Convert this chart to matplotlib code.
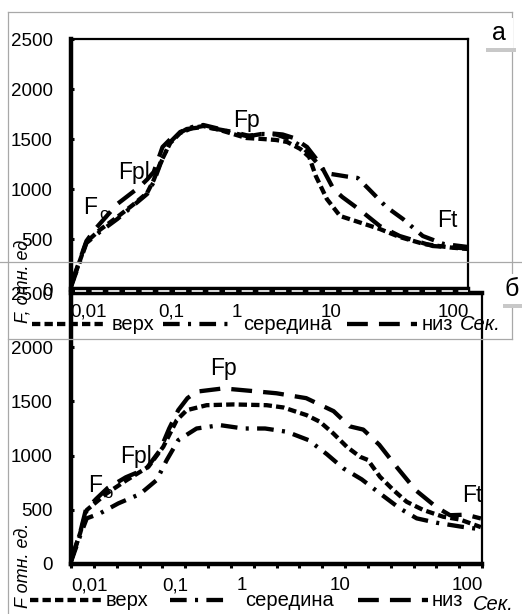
import matplotlib
matplotlib.use('Agg')
import matplotlib.pyplot as plt
from matplotlib.lines import Line2D
from matplotlib.patches import Rectangle

plt.rcParams['font.family'] = ['Liberation Sans', 'DejaVu Sans']
plt.rcParams['lines.scale_dashes'] = False

# ---------------- data (x = position on category time axis) ----------------
tick_pos = [0.8, 4.55, 7.5, 11.8, 17.35]
tick_labels = ['0,01', '0,1', '1', '10', '100']

# panel a
a_verh_x = [0, 0.35, 0.7, 1.3, 2.1, 2.8, 3.45, 3.75, 4.05, 4.5, 4.95, 5.5, 6.0, 6.75, 7.35, 7.95, 8.7,
            9.3, 9.8, 10.4, 10.8, 11.1, 11.6, 12.2, 13.1, 14.0, 14.9, 16.0, 17.2, 18.0]
a_verh_y = [30, 250, 470, 590, 720, 840, 960, 1090, 1260, 1460, 1560, 1610, 1630, 1590, 1550, 1510, 1500,
            1490, 1470, 1400, 1320, 1130, 900, 730, 665, 600, 520, 450, 415, 400]
a_sered_x = [0, 0.35, 0.7, 1.3, 2.1, 2.8, 3.45, 3.75, 4.05, 4.5, 4.95, 5.5, 6.0, 6.75, 7.35, 7.95, 8.7,
             9.3, 9.9, 10.5, 11.0, 11.4, 11.8, 12.5, 13.0, 13.5, 14.3, 15.05, 15.95, 16.9, 18.0]
a_sered_y = [20, 240, 460, 570, 700, 830, 950, 1070, 1250, 1470, 1570, 1620, 1640, 1600, 1560, 1530, 1550,
             1545, 1500, 1420, 1300, 1200, 1150, 1125, 1110, 1000, 820, 700, 530, 450, 420]
a_niz_x = [0, 0.35, 0.7, 1.1, 2.1, 3.1, 3.45, 3.75, 4.15, 4.6, 5.25, 6.0, 6.6, 7.35, 8.1, 8.9, 9.6, 10.1,
           10.7, 11.3, 11.9, 12.3, 13.1, 14.0, 14.9, 16.4, 18.0]
a_niz_y = [40, 260, 480, 600, 850, 1020, 1095, 1170, 1420, 1520, 1600, 1620, 1600, 1570, 1530, 1560, 1545,
           1510, 1420, 1250, 1000, 920, 790, 630, 530, 430, 405]

# panel b
b_verh_x = [0, 0.4, 0.69, 1.56, 2.44, 3.39, 4.04, 4.63, 5.07, 5.94, 7.11, 8.57, 9.3, 10.32, 10.9, 11.49,
            12.08, 12.66, 13.0, 13.53, 14.12, 14.7, 15.43, 16.3, 17.04, 17.95]
b_verh_y = [30, 285, 498, 651, 774, 897, 1081, 1327, 1419, 1465, 1472, 1465, 1444, 1373, 1312, 1204,
            1081, 989, 960, 805, 682, 574, 498, 436, 410, 340]
b_sered_x = [0, 0.4, 0.69, 1.27, 2.07, 3.02, 3.75, 4.19, 4.7, 5.5, 6.53, 7.55, 8.5, 9.45, 10.4, 11.2,
             11.93, 12.73, 13.53, 14.4, 15.14, 16.0, 17.1, 17.95]
b_sered_y = [20, 260, 421, 467, 559, 645, 774, 958, 1143, 1250, 1281, 1250, 1250, 1220, 1143, 1014,
             882, 781, 651, 513, 421, 381, 344, 320]
b_niz_x = [0, 0.4, 0.65, 1.1, 1.6, 2.4, 3.3, 3.9, 4.3, 4.7, 5.1, 5.5, 6.67, 7.98, 9.0, 10.3, 11.5, 12.2,
           12.8, 13.5, 14.3, 15.1, 16.0, 16.6, 17.3, 17.95]
b_niz_y = [30, 290, 500, 600, 700, 800, 880, 1050, 1250, 1420, 1530, 1590, 1620, 1595, 1575, 1530, 1410,
           1270, 1240, 1100, 885, 680, 525, 450, 455, 420]

names = ['верх', 'середина', 'низ']
styles = {'верх': (0, (6, 3)), 'середина': (0, (12, 6, 2.2, 6)), 'низ': (0, (15, 8))}

# ---------------- layout ----------------
W, H = 522, 614
fig = plt.figure(figsize=(W / 100, H / 100), dpi=100)
fig.patch.set_facecolor('white')


def fx(x):
    return x / W


def fy(y):
    return 1 - y / H


def px_axes(x0, y0, x1, y1):
    return fig.add_axes([fx(x0), fy(y1), (x1 - x0) / W, (y1 - y0) / H])


def style_axes(ax, top_thick, show_minor, xpad):
    ax.set_facecolor('none')
    ax.set_xlim(0, 18)
    ax.set_ylim(0, 2500)
    for s in ['left', 'bottom']:
        ax.spines[s].set_linewidth(3.2)
    ax.spines['top'].set_linewidth(3.2 if top_thick else 1.6)
    ax.spines['right'].set_linewidth(1.6)
    ax.set_yticks([0, 500, 1000, 1500, 2000, 2500])
    ax.set_yticklabels(['0', '500', '1000', '1500', '2000', '2500'])
    ax.tick_params(axis='y', direction='in', length=2.5, width=2.2, pad=13, labelsize=13.5)
    ax.set_xticks(tick_pos)
    ax.set_xticklabels(tick_labels)
    ax.tick_params(axis='x', which='major', length=0, pad=xpad, labelsize=13.5)
    if show_minor:
        ax.set_xticks(range(19), minor=True)
        ax.tick_params(axis='x', which='minor', direction='out', length=3, width=2.2)
    else:
        ax.tick_params(axis='x', which='minor', length=0)


ax_b = px_axes(71, 293, 482, 564)
style_axes(ax_b, True, True, 9.5)
ax_a = px_axes(71, 39, 468, 289)
style_axes(ax_a, False, False, 10.5)

lw = 3.1
ax_a.plot(a_verh_x, a_verh_y, color='black', lw=lw, ls=styles['верх'])
ax_a.plot(a_sered_x, a_sered_y, color='black', lw=lw, ls=styles['середина'])
ax_a.plot(a_niz_x, a_niz_y, color='black', lw=lw, ls=styles['низ'])
ax_b.plot(b_verh_x, b_verh_y, color='black', lw=lw, ls=styles['верх'])
ax_b.plot(b_sered_x, b_sered_y, color='black', lw=lw, ls=styles['середина'])
ax_b.plot(b_niz_x, b_niz_y, color='black', lw=lw, ls=styles['низ'])

# white dashes between the two thick axis lines
fig.add_artist(Line2D([fx(75), fx(468)], [fy(290.8), fy(290.8)], color='white', lw=1.2,
                      ls=(0, (8, 4)), zorder=10))

# gray frames
gray = '#a8a8a8'
for (x0, y0, x1, y1) in [(8, 12, 512, 12), (8, 12, 8, 614), (512, 12, 512, 339),
                         (8, 339, 512, 339), (0, 262, 522, 262)]:
    fig.add_artist(Line2D([fx(x0), fx(x1)], [fy(y0), fy(y1)], color=gray, lw=0.9, zorder=0.5))

# panel letter boxes with shadows
for (x0, y0, x1, y1, letter) in [(483, 18, 513, 48, 'а'), (500, 274, 522, 304, 'б')]:
    fig.add_artist(Rectangle((fx(x0 + 3), fy(y1 + 4)), (x1 - x0) / W, 4 / H, transform=fig.transFigure,
                             facecolor='#c8c8c8', edgecolor='none', zorder=11))
    fig.add_artist(Rectangle((fx(x0), fy(y1)), (x1 - x0) / W, (y1 - y0) / H, transform=fig.transFigure,
                             facecolor='white', edgecolor='none', zorder=12))
    fig.text(fx((x0 + x1) / 2 + 1), fy((y0 + y1) / 2), letter, ha='center', va='center', fontsize=18,
             zorder=13)

# axis titles
fig.text(fx(23), fy(279), 'F, отн. ед.', rotation=90, ha='center', va='center', fontsize=13,
         style='italic')
fig.text(fx(23), fy(565), 'F отн. ед.', rotation=90, ha='center', va='center', fontsize=13,
         style='italic')


# legend rows
def legend_row(y, segs, sek_x, sek_y):
    for (x0, x1, tx), name in zip(segs, names):
        fig.add_artist(Line2D([fx(x0), fx(x1)], [fy(y), fy(y)], color='black', lw=lw, ls=styles[name]))
        fig.text(fx(tx), fy(y), name, ha='left', va='center', fontsize=14.5)
    fig.text(fx(sek_x), fy(sek_y), 'Сек.', ha='left', va='center', fontsize=14.5, style='italic')


legend_row(324, [(32, 107, 112), (163, 230, 243), (347, 417, 422)], 460, 325)
legend_row(600, [(30, 103, 106), (170, 230, 245), (358, 428, 432)], 473, 605)


# curve annotations
def ann(x, y, s, size=16.5):
    fig.text(fx(x), fy(y), s, ha='left', va='center', fontsize=size)


ann(83, 208, 'F')
ann(99, 215, 'o', 12)
ann(118, 172, 'Fpl')
ann(233, 120, 'Fp')
ann(437, 221, 'Ft')
ann(88, 486, 'F')
ann(103, 493, 'o', 12)
ann(120, 457, 'Fpl')
ann(210, 369, 'Fp')
ann(462, 496, 'Ft')

fig.savefig('out.png', dpi=100, facecolor='white')
